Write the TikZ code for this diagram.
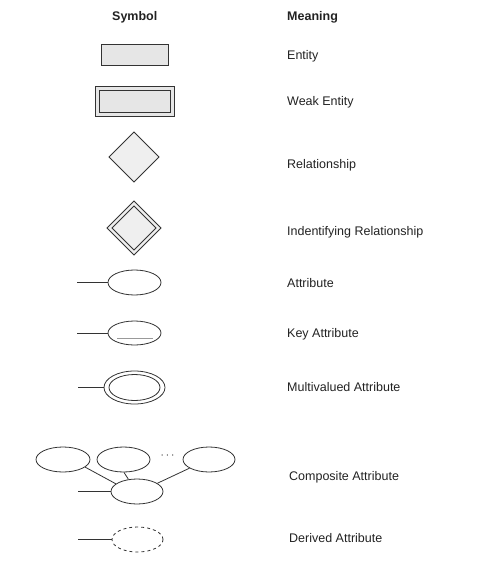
\documentclass[tikz,border=0pt]{standalone}
\usepackage{fontspec}
\setmainfont{Liberation Sans}
\usetikzlibrary{shapes.geometric}
\definecolor{ink}{HTML}{333333}
\definecolor{txt}{HTML}{222222}
\definecolor{boxfill}{HTML}{E6E6E6}
\definecolor{dfill}{HTML}{EFEFEF}
\begin{document}
\begin{tikzpicture}[x=1pt,y=-1pt,
  lbl/.style={anchor=base west,inner sep=0pt,text=txt,font=\fontsize{12.5}{14}\selectfont},
  hdr/.style={lbl,font=\fontsize{12.5}{14}\selectfont\bfseries},
  ent/.style={draw=ink,fill=boxfill,line width=0.8pt},
  rel/.style={draw=ink,fill=dfill,line width=0.8pt},
  att/.style={ellipse,draw=ink,line width=0.8pt,inner sep=0pt},
  conn/.style={draw=ink,line width=0.8pt}]
\useasboundingbox (0,0) rectangle (492,575);
% headers
\node[hdr] (hs) at (112,20.5) {Symbol};
\node[hdr] (hm) at (287,20.5) {Meaning};
% entity
\draw[ent] (101,44) rectangle (168,65);
\node[lbl] (t1) at (287,59.5) {Entity};
% weak entity
\draw[ent] (95,86) rectangle (174,116);
\draw[ent] (99,90) rectangle (170,112);
\node[lbl] (t2) at (287,105.5) {Weak Entity};
% relationship
\draw[rel] (134,132) -- (159,157) -- (134,182) -- (109,157) -- cycle;
\node[lbl] (t3) at (287,168) {Relationship};
% identifying relationship
\draw[rel] (134,201) -- (161,228) -- (134,255) -- (107,228) -- cycle;
\draw[rel] (134,206) -- (156,228) -- (134,250) -- (112,228) -- cycle;
\node[lbl] (t4) at (287,235.5) {Indentifying Relationship};
% attribute
\node[att,minimum width=53pt,minimum height=25pt] (a1) at (134.5,282.5) {};
\coordinate (a1l) at (77,282.5);
\draw[conn] (a1l) -- (a1.west);
\node[lbl] (t5) at (287,287.5) {Attribute};
% key attribute
\node[att,minimum width=53pt,minimum height=24pt] (a2) at (134.5,333) {};
\coordinate (a2l) at (77,333);
\draw[conn] (a2l) -- (a2.west);
\coordinate (u1) at (117,338);
\coordinate (u2) at (153,338);
\draw[draw=gray!80,line width=1pt] (u1) -- (u2);
\node[lbl] (t6) at (287,337.5) {Key Attribute};
% multivalued
\node[att,minimum width=61pt,minimum height=33pt] (a3) at (134.5,387.5) {};
\node[att,minimum width=51pt,minimum height=26pt] (a3i) at (134.5,387.5) {};
\coordinate (a3l) at (78,387.5);
\draw[conn] (a3l) -- (a3.west);
\node[lbl] (t7) at (287,391.5) {Multivalued Attribute};
% composite
\node[att,minimum width=54pt,minimum height=25pt] (e1) at (63,459.5) {};
\node[att,minimum width=53pt,minimum height=25pt] (e2) at (123.5,459.5) {};
\node[att,minimum width=52pt,minimum height=25pt] (e3) at (209,459.5) {};
\node[att,minimum width=52pt,minimum height=25pt] (c) at (137,491.5) {};
\node[text=ink,inner sep=0pt,font=\fontsize{13}{15}\selectfont] (dots) at (167.5,455.5) {$\cdots$};
\draw[conn] (e1.-19) -- (c.160);
\draw[conn] (e2.-88) -- (c.125);
\draw[conn] (e3.204) -- (c.22);
\coordinate (cl) at (78,491.5);
\draw[conn] (cl) -- (c.west);
\node[lbl] (t8) at (289,480.5) {Composite Attribute};
% derived
\node[att,dashed,minimum width=51pt,minimum height=25pt] (d) at (137.5,539.5) {};
\coordinate (dl) at (78,539.5);
\draw[conn] (dl) -- (d.west);
\node[lbl] (t9) at (289,542.5) {Derived Attribute};
\end{tikzpicture}
\end{document}
